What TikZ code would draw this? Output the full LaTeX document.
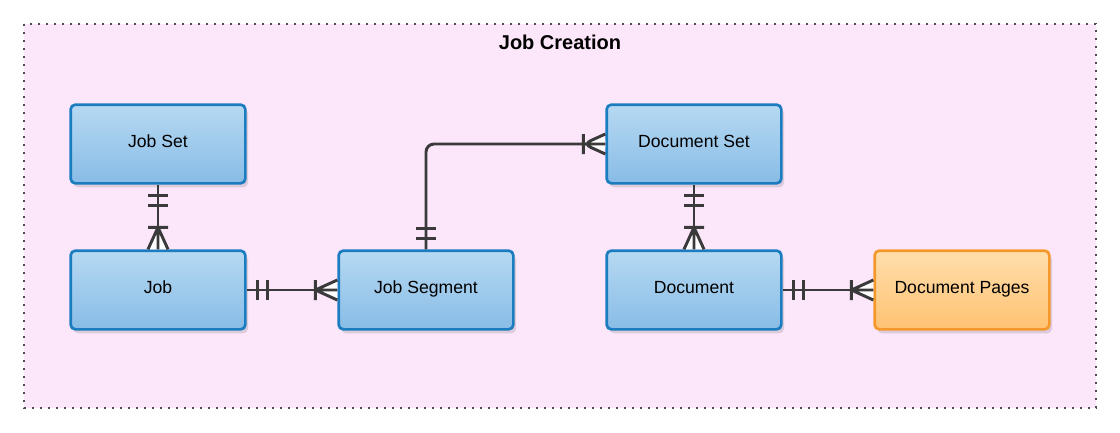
\documentclass[tikz,border=0pt]{standalone}
\usepackage{fontspec}
\setmainfont{Liberation Sans}
\usetikzlibrary{positioning,shadows,decorations.markings}
\definecolor{panelpink}{HTML}{FCE6FA}
\definecolor{boxblue}{HTML}{1B7DC0}
\definecolor{bluetop}{HTML}{B6D9F2}
\definecolor{bluebottom}{HTML}{88BCE6}
\definecolor{boxorange}{HTML}{F4982C}
\definecolor{orangetop}{HTML}{FFDEAB}
\definecolor{orangebottom}{HTML}{FFC273}
\definecolor{linkgray}{HTML}{3A3A3A}
\tikzset{
  entity/.style={draw=boxblue,line width=2pt,rounded corners=3.5pt,
    top color=bluetop,bottom color=bluebottom,
    minimum width=131pt,minimum height=59pt,
    text height=8pt,text depth=3pt,
    font=\fontsize{13.2}{15}\selectfont,
    drop shadow={opacity=0.25,shadow xshift=2pt,shadow yshift=-3pt}},
  pages/.style={entity,draw=boxorange,top color=orangetop,bottom color=orangebottom},
  onlyone/.style={postaction={decorate},decoration={markings,
    mark=at position 8.25pt with {\draw[linkgray,line width=2.2pt] (0,-7.5pt) -- (0,7.5pt);},
    mark=at position 15.75pt with {\draw[linkgray,line width=2.2pt] (0,-7.5pt) -- (0,7.5pt);},
    mark=at position -16.5pt with {
      \fill[white] (0,0) -- (16.5pt,-7.5pt) -- (16.5pt,7.5pt) -- cycle;
      \draw[linkgray,line width=2.2pt] (0,-7.5pt) -- (0,7.5pt)
        (16.5pt,-7.5pt) -- (0,0) -- (16.5pt,7.5pt) (0,0) -- (16.5pt,0);}}},
  link/.style={draw=linkgray,line width=2.2pt,onlyone}
}
\begin{document}
\begin{tikzpicture}[x=0.75pt,y=-0.75pt,node distance=48.5pt and 68pt]
\useasboundingbox (0,0) rectangle (1120,432);
% container
\draw[fill=panelpink,draw=linkgray!90,line width=1.3pt,dash pattern=on 1.3pt off 4.7pt]
  (24,24) rectangle (1096,408);
\node[font=\bfseries\fontsize{15}{18}\selectfont] (title) at (560,42) {Job Creation};

\node [entity] (jobset) at (158,144) {Job Set};
\node [entity,below=of jobset] (job) {Job};
\node [entity,right=of job] (segment) {Job Segment};
\node [entity,right=of segment] (doc) {Document};
\node [entity,above=of doc] (docset) {Document Set};
\node [pages,right=of doc] (docpages) {Document Pages};

\draw [link] (jobset) -- (job);
\draw [link] (job) -- (segment);
\draw [link,rounded corners=6pt] (segment.north) |- (docset.west);
\draw [link] (docset) -- (doc);
\draw [link] (doc) -- (docpages);
\end{tikzpicture}
\end{document}
